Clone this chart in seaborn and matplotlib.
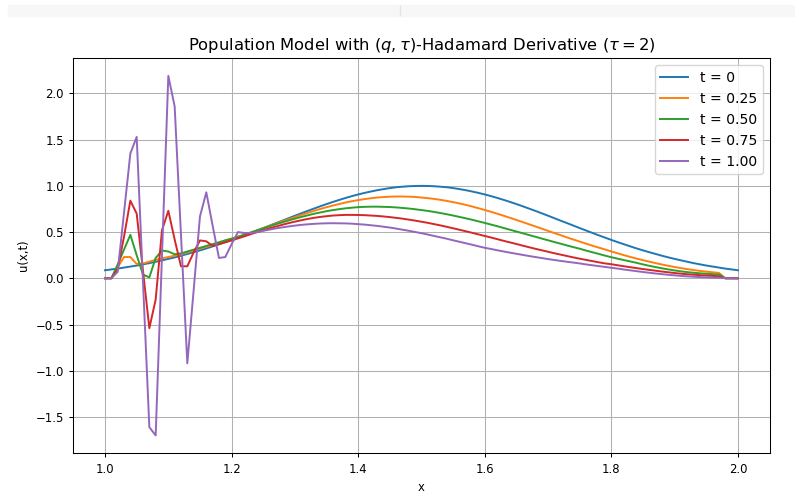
import numpy as np
import pandas as pd
import matplotlib
matplotlib.use("Agg")
import matplotlib.pyplot as plt
import seaborn as sns
from matplotlib.patches import Rectangle

# grid in x (step 0.01)
x = np.linspace(1, 2, 101)

# values
u_t0 = [0.087, 0.096, 0.105, 0.116, 0.127, 0.138, 0.151, 0.164, 0.179, 0.194,
        0.210, 0.226, 0.244, 0.263, 0.282, 0.302, 0.323, 0.345, 0.368, 0.391,
        0.415, 0.440, 0.465, 0.491, 0.517, 0.543, 0.570, 0.597, 0.623, 0.650,
        0.677, 0.703, 0.729, 0.754, 0.779, 0.803, 0.826, 0.848, 0.869, 0.889,
        0.907, 0.924, 0.939, 0.953, 0.965, 0.976, 0.985, 0.991, 0.996, 0.999,
        1.000,
        0.999, 0.996, 0.991, 0.985, 0.976, 0.965, 0.953, 0.939, 0.924, 0.907,
        0.889, 0.869, 0.848, 0.826, 0.803, 0.779, 0.754, 0.729, 0.703, 0.677,
        0.650, 0.623, 0.597, 0.570, 0.543, 0.517, 0.491, 0.465, 0.440, 0.415,
        0.391, 0.368, 0.345, 0.323, 0.302, 0.282, 0.263, 0.244, 0.226, 0.210,
        0.194, 0.179, 0.164, 0.151, 0.138, 0.127, 0.116, 0.105, 0.096, 0.087]

u_t025 = [0, 0, 0.12, 0.23, 0.23, 0.155, 0.16, 0.18, 0.20, 0.215,
          0.23, 0.245, 0.26, 0.28, 0.30, 0.32, 0.34, 0.36, 0.385, 0.41,
          0.43, 0.45,
          0.468, 0.493, 0.517, 0.542, 0.567, 0.591, 0.615, 0.639, 0.663, 0.686,
          0.708, 0.729, 0.750, 0.769, 0.787, 0.804, 0.820, 0.834, 0.846, 0.857,
          0.866, 0.874, 0.879, 0.883, 0.885,
          0.885, 0.883, 0.880, 0.874, 0.867, 0.859, 0.849, 0.837, 0.824, 0.810,
          0.794, 0.777, 0.758, 0.739, 0.719, 0.698, 0.676, 0.654, 0.631, 0.608,
          0.584, 0.561, 0.537, 0.513, 0.489, 0.466, 0.442, 0.419, 0.397, 0.375,
          0.353, 0.332, 0.312,
          0.290, 0.270, 0.250, 0.231, 0.213, 0.196, 0.180, 0.164, 0.149, 0.135,
          0.122, 0.110, 0.099, 0.089, 0.080, 0.072, 0.065, 0.058, 0, 0, 0]

u_t050 = [0, 0, 0.15, 0.31, 0.47, 0.25, 0.04, 0.01, 0.22, 0.30,
          0.29, 0.26, 0.27, 0.29, 0.31, 0.33, 0.35, 0.37, 0.39, 0.41,
          0.427, 0.449, 0.472, 0.495, 0.518, 0.541, 0.563, 0.585, 0.605, 0.626,
          0.645, 0.664, 0.681, 0.698, 0.712, 0.726, 0.738, 0.748, 0.757, 0.764,
          0.770, 0.773, 0.775,
          0.775, 0.773, 0.771, 0.767, 0.761, 0.755, 0.747, 0.738, 0.729, 0.718,
          0.706, 0.693, 0.679, 0.664, 0.649, 0.633, 0.616, 0.599, 0.581, 0.563,
          0.544, 0.525, 0.506, 0.487, 0.468, 0.449, 0.430, 0.411, 0.392, 0.374,
          0.355, 0.337, 0.320,
          0.300, 0.282, 0.264, 0.245, 0.228, 0.212, 0.197, 0.182, 0.167, 0.150,
          0.135, 0.121, 0.108, 0.096, 0.085, 0.075, 0.067, 0.060, 0.054, 0.049,
          0.045, 0.041, 0, 0, 0]

u_t075 = [0, 0, 0.10, 0.45, 0.84, 0.70, 0.08, -0.54, -0.23, 0.52,
          0.73, 0.42, 0.13, 0.13, 0.28, 0.41, 0.40, 0.35, 0.37, 0.39,
          0.409, 0.432, 0.454, 0.477, 0.499, 0.520, 0.541, 0.560, 0.579, 0.597,
          0.613, 0.628, 0.642, 0.654, 0.664, 0.672, 0.679, 0.683, 0.686,
          0.686, 0.685, 0.683, 0.679, 0.675, 0.669, 0.662, 0.654, 0.645, 0.635,
          0.624, 0.612, 0.600, 0.586, 0.572, 0.557, 0.541, 0.525, 0.509, 0.492,
          0.475, 0.458, 0.441, 0.423, 0.405, 0.388, 0.371, 0.353, 0.336, 0.319,
          0.303, 0.287, 0.271, 0.256, 0.241, 0.226, 0.212, 0.199, 0.186, 0.173,
          0.161,
          0.152, 0.141, 0.130, 0.120, 0.110, 0.100, 0.091, 0.082, 0.073, 0.065,
          0.057, 0.050, 0.044, 0.039, 0.034, 0.030, 0.026, 0.022, 0, 0, 0]

u_t100 = [0, 0, 0.07, 0.71, 1.35, 1.53, -0.04, -1.61, -1.70, 0.25,
          2.19, 1.86, 0.47, -0.92, -0.13, 0.67, 0.93, 0.57, 0.22, 0.23,
          0.37, 0.50,
          0.49, 0.49, 0.50, 0.514, 0.527, 0.540, 0.551, 0.561, 0.570, 0.578,
          0.584, 0.589, 0.593, 0.595, 0.596,
          0.595, 0.594, 0.591, 0.586, 0.581, 0.574, 0.567, 0.558, 0.549, 0.538,
          0.526, 0.514, 0.501, 0.488, 0.473, 0.458, 0.443, 0.428, 0.411, 0.395,
          0.379, 0.363, 0.346, 0.330,
          0.317, 0.303, 0.290, 0.277, 0.265, 0.253, 0.241, 0.230, 0.219, 0.208,
          0.198, 0.188, 0.179, 0.170, 0.161, 0.150, 0.141, 0.132, 0.123,
          0.114, 0.105, 0.095, 0.086, 0.077, 0.068, 0.060, 0.052, 0.045, 0.038,
          0.032, 0.026, 0.021, 0.017, 0.013, 0.010, 0.007, 0.005, 0.003, 0.001, 0]

labels = ["t = 0", "t = 0.25", "t = 0.50", "t = 0.75", "t = 1.00"]
series = [u_t0, u_t025, u_t050, u_t075, u_t100]

frames = []
for lab, vals in zip(labels, series):
    frames.append(pd.DataFrame({"x": x, "u": vals, "t": lab}))
df = pd.concat(frames, ignore_index=True)

fig = plt.figure(figsize=(7.95, 4.97), dpi=100)

# notebook toolbar strip at the top of the screenshot
fig.patches.append(Rectangle((8 / 795, 1 - 16 / 497), 1 - 8 / 795, 11 / 497,
                             transform=fig.transFigure, color="#f7f7f7", zorder=0))
fig.patches.append(Rectangle((399.5 / 795, 1 - 16 / 497), 0.8 / 795, 11 / 497,
                             transform=fig.transFigure, color="#e4e4e4", zorder=1))

ax = fig.add_axes([0.0923, 0.0877, 0.8758, 0.7958])
sns.lineplot(data=df, x="x", y="u", hue="t", palette=sns.color_palette("tab10", 5),
             estimator=None, linewidth=1.4, ax=ax)

ax.grid(True, color="#b0b0b0", linewidth=0.75)
ax.tick_params(labelsize=8.4, width=0.75, length=3.2)
for s in ax.spines.values():
    s.set_linewidth(0.75)
ax.set_xlabel("x", fontsize=8.4)
ax.set_ylabel("u(x,t)", fontsize=8.4)
ax.set_title(r"Population Model with $(q,\tau)$-Hadamard Derivative ($\tau=2$)", fontsize=11.8)
h, l = ax.get_legend_handles_labels()
ax.legend(h, l, loc="upper right", fontsize=10.1)

fig.savefig("out.png", dpi=100)
